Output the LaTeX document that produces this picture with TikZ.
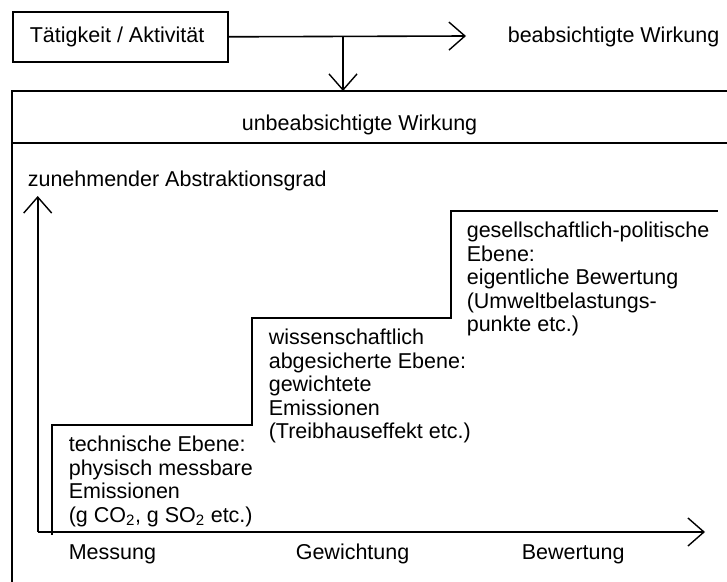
\documentclass[tikz,border=0pt]{standalone}
\usepackage{fontspec}
\setmainfont{Liberation Sans}
\usetikzlibrary{arrows.meta}
\begin{document}
\begin{tikzpicture}[x=1pt,y=-1pt,
  line width=1.6pt,
  every node/.style={inner sep=0pt,font=\fontsize{21.5pt}{23.5pt}\selectfont},
  lbl/.style={anchor=west},
  blk/.style={anchor=north west,align=left},
  vtip/.style={-{Straight Barb[length=16pt,width=28pt,line width=1.4pt]}},
  thin/.style={line width=1.6pt}]
\useasboundingbox (0,0) rectangle (727,581);
% top box
\node[draw,thin,minimum width=215pt,minimum height=50pt,anchor=north west] (act) at (12,11) {};
\node[lbl] (acttxt) at (29,37) {Tätigkeit / Aktivität};
\coordinate (tipR) at (466,36);
\coordinate (split) at (343,36);
\draw[vtip] (act.east) -- (tipR);
\node[lbl] (beab) at (507,37) {beabsichtigte Wirkung};
% big box
\coordinate (bigTL) at (12,91);
\coordinate (bigTR) at (740,91);
\coordinate (bigBL) at (12,600);
\coordinate (sepL) at (12,143);
\coordinate (sepR) at (740,143);
\coordinate (down) at (343,91);
\draw[thin] (bigBL) -- (bigTL) -- (bigTR);
\draw[thin] (sepL) -- (sepR);
\draw[vtip] (split) -- (down);
\node[lbl] (unbeab) at (241,125) {unbeabsichtigte Wirkung};
\node[lbl] (abstr) at (27,181) {zunehmender Abstraktionsgrad};
% axes
\coordinate (origin) at (37.7,532);
\coordinate (ytip) at (37.7,196);
\coordinate (xtip) at (705,532);
\draw[vtip] (origin) -- (ytip);
\draw[vtip] (origin) -- (xtip);
% steps
\coordinate (s0) at (51.7,535);
\coordinate (s1) at (51.7,425);
\coordinate (s2) at (251.7,425);
\coordinate (s3) at (251.7,318);
\coordinate (s4) at (451,318);
\coordinate (s5) at (451,211);
\coordinate (s6) at (718,211);
\draw[thin] (s0) -- (s1) -- (s2) -- (s3) -- (s4) -- (s5) -- (s6);
% step texts
\node[blk] (t1) at (68,435.3) {technische Ebene:\\physisch messbare\\Emissionen\\(g CO\textsubscript{2}, g SO\textsubscript{2} etc.)};
\node[blk] (t2) at (268,328.3) {wissenschaftlich\\abgesicherte Ebene:\\gewichtete\\Emissionen\\(Treibhauseffekt etc.)};
\node[blk] (t3) at (466,221.3) {gesellschaftlich-politische\\Ebene:\\eigentliche Bewertung\\(Umweltbelastungs-\\punkte etc.)};
% axis labels
\node[lbl] (mess) at (68,554) {Messung};
\node[lbl] (gew) at (295,554) {Gewichtung};
\node[lbl] (bew) at (521,554) {Bewertung};
\end{tikzpicture}
\end{document}
